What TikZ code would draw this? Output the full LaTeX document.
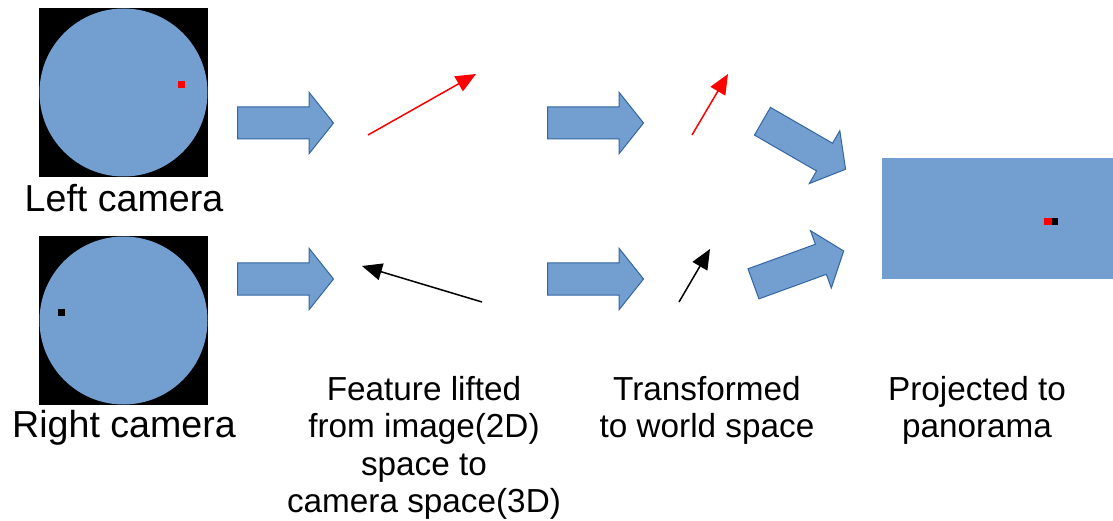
\documentclass[tikz,border=0pt]{standalone}
\usepackage{fontspec}
\setmainfont{Liberation Sans}
\usetikzlibrary{arrows.meta,shapes.arrows,positioning}
\definecolor{skyfill}{HTML}{729FCF}
\definecolor{skyline}{HTML}{3465A4}
\tikzset{
  bigarrow/.style={single arrow, draw=skyline, fill=skyfill, line width=1pt,
    minimum height=96pt, minimum width=60pt, inner xsep=0pt, inner ysep=15.5pt,
    single arrow head extend=14.5pt, single arrow tip angle=103, anchor=tail},
  vec/.style={line width=1.5pt, -{Triangle[length=20pt,width=17pt]}},
  caption/.style={font=\fontsize{33.3}{37.5}\selectfont, align=center, anchor=base},
  camlabel/.style={font=\fontsize{37.6}{44}\selectfont, anchor=base},
  dot/.style={minimum size=7pt, inner sep=0pt, outer sep=0pt}
}

\begin{document}
\begin{tikzpicture}[x=1pt,y=-1pt]
\useasboundingbox (0,0) rectangle (1113,521);
% camera images
\node[fill=black, minimum size=169pt, inner sep=0pt] (leftimg) at (123.5,92.5) {};
\fill[skyfill] (leftimg.center) circle (84pt);
\node[dot, fill=red] (leftpt) at (181,85) {};
\node[fill=black, minimum size=169pt, inner sep=0pt] (rightimg) at (123.5,320.5) {};
\fill[skyfill] (rightimg.center) circle (84pt);
\node[dot, fill=black] (rightpt) at (61,312.5) {};
\node[camlabel] (leftlbl) at (124,212) {Left camera};
\node[camlabel] (rightlbl) at (124,437) {Right camera};

% block arrows (placed by their tails)
\node[bigarrow] (liftA) at (237,123) {};
\node[bigarrow] (liftB) at (237,279) {};
\node[bigarrow] (worldA) at (547,123) {};
\node[bigarrow] (worldB) at (547,279) {};
\node[bigarrow, rotate=-30] (projA) at (762,121) {};
\node[bigarrow, rotate=20] (projB) at (753,284) {};

% feature vectors
\coordinate (camA0) at (368,135);
\coordinate (camA1) at (476,74);
\coordinate (camB0) at (482,302);
\coordinate (camB1) at (362,266);
\coordinate (wA0) at (692,135);
\coordinate (wA1) at (728,74);
\coordinate (wB0) at (679,302);
\coordinate (wB1) at (710,249);
\draw[vec, red] (camA0) -- (camA1);
\draw[vec, black] (camB0) -- (camB1);
\draw[vec, red] (wA0) -- (wA1);
\draw[vec, black] (wB0) -- (wB1);

% panorama
\fill[skyfill] (882,158) rectangle (1113,279);
\node[dot, fill=red, minimum width=8pt] (panoA) at (1048,222) {};
\node[dot, fill=black, minimum width=6pt] (panoB) at (1055,222) {};

% captions (base = last line)
\node[caption] (liftlbl) at (424,512.5) {Feature lifted\\from image(2D)\\space to\\camera space(3D)};
\node[caption] (worldlbl) at (707,437.5) {Transformed\\to world space};
\node[caption] (projlbl) at (977,437.5) {Projected to\\panorama};
\end{tikzpicture}
\end{document}
